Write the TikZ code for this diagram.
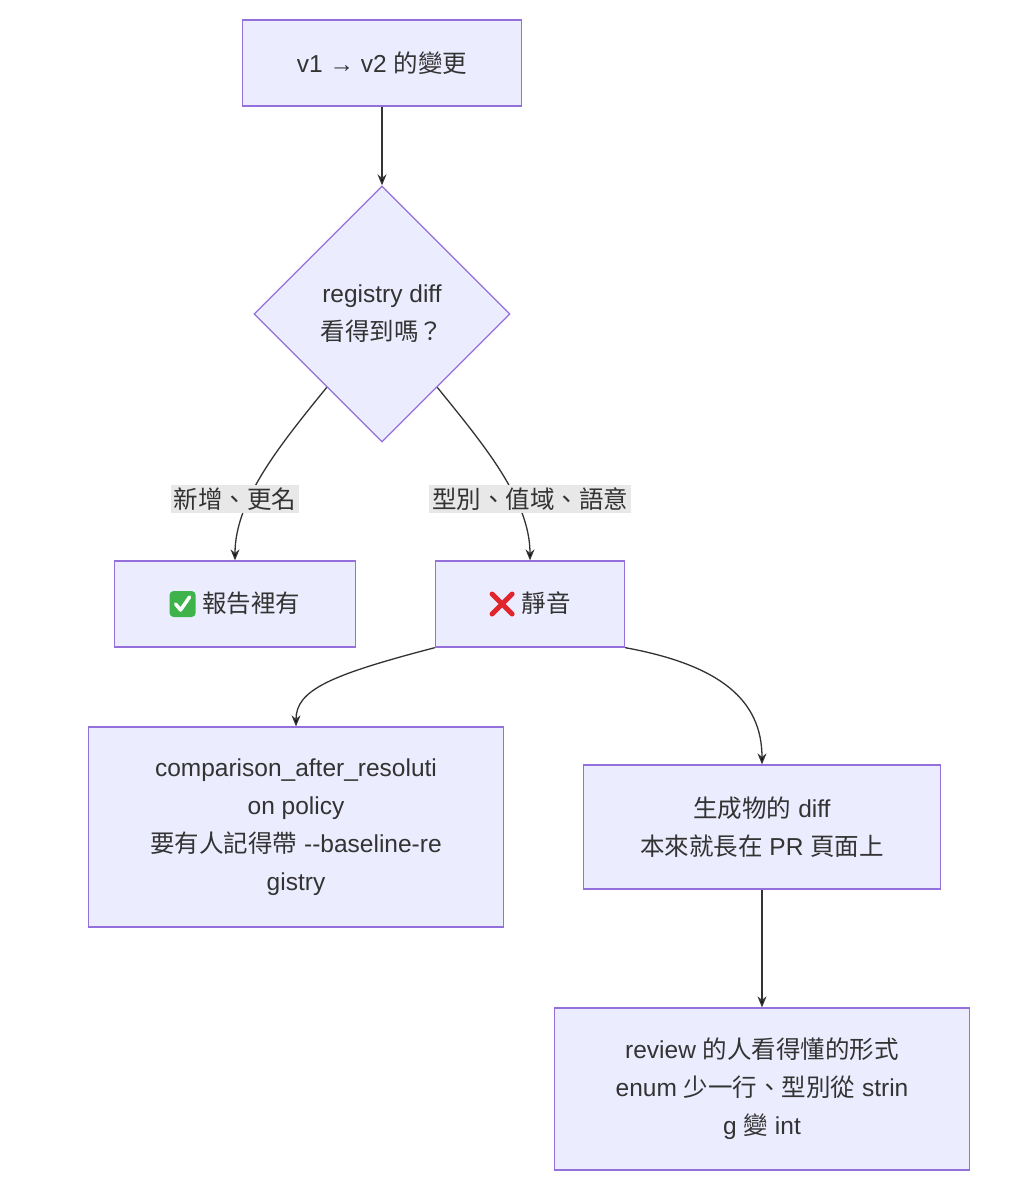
\documentclass[tikz,border=0pt]{standalone}
\usepackage{fontspec}
\setmainfont{Liberation Sans}
\newfontfamily\cjk{Noto Sans CJK TC}
\usetikzlibrary{shapes.geometric,arrows.meta}
\definecolor{boxfill}{HTML}{ECECFF}
\definecolor{boxline}{HTML}{9370DB}
\definecolor{ink}{HTML}{333333}
\definecolor{lblfill}{HTML}{E8E8E8}
\definecolor{okgreen}{HTML}{3DB34A}
\definecolor{nored}{HTML}{E0262C}
\newcommand\okmark{\tikz[baseline=-8pt,x=1pt,y=1pt]{\fill[okgreen,rounded corners=4pt] (-13,-13) rectangle (13,13);
  \draw[white,line width=3.5pt,line cap=round,line join=round] (-7,0) -- (-2,-6) -- (7,7);}}
\newcommand\nomark{\tikz[baseline=-8pt,x=1pt,y=1pt]{\path (-13,-13) rectangle (13,13);
  \draw[nored,line width=5pt,line cap=round] (-10,-10) -- (10,10) (-10,10) -- (10,-10);}}
\tikzset{
  box/.style={draw=boxline,fill=boxfill,line width=1.3pt,align=center,text=ink,
    font=\fontsize{24.5}{38}\selectfont,inner sep=0pt},
  decision/.style={diamond,draw=boxline,fill=boxfill,line width=1.3pt,align=center,
    text=ink,font=\fontsize{24.5}{38}\selectfont,minimum width=256pt,minimum height=256pt,inner sep=0pt},
  tag/.style={fill=lblfill,text=ink,font=\fontsize{24.5}{30}\selectfont,inner sep=3pt},
  flow/.style={draw=ink,line width=1.3pt,-{Stealth[length=11pt,width=9pt]}}
}
\begin{document}
\begin{tikzpicture}[x=1pt,y=-1pt]
    \useasboundingbox[fill=white] (0,0) rectangle (1024,1202);
    % nodes
    \node[box,minimum width=279pt,minimum height=86pt] (change) at (382,63) {v1 → v2 {\cjk 的變更}};
    \node[decision] (visible) at (382,314) {registry diff\\{\cjk 看得到嗎？}};
    \node[box,minimum width=241pt,minimum height=86pt] (report) at (235,604) {\okmark\ {\cjk 報告裡有}};
    \node[box,minimum width=189pt,minimum height=86pt] (silent) at (530,604) {\nomark\ {\cjk 靜音}};
    \node[box,minimum width=415pt,minimum height=200pt] (policy) at (296,827)
        {comparison\_after\_resoluti\\on policy\\{\cjk 要有人記得帶} -{}-baseline-re\\gistry};
    \node[box,minimum width=357pt,minimum height=124pt] (gendiff) at (762,827)
        {{\cjk 生成物的} diff\\{\cjk 本來就長在} PR {\cjk 頁面上}};
    \node[box,minimum width=415pt,minimum height=162pt] (readable) at (762,1089)
        {review {\cjk 的人看得懂的形式}\\enum {\cjk 少一行、型別從} strin\\g {\cjk 變} int};

    % connectors
    \draw[flow] (visible.233) .. controls (280,445) and (235,500) .. (report.north);
    \draw[flow] (change) -- (visible);
    \draw[flow] (visible.307) .. controls (484,445) and (530,500) .. (silent.north);
    \draw[flow] (silent.south west) .. controls (330,675) and (296,690) .. (policy.north);
    \draw[flow] (silent.south east) .. controls (720,665) and (762,700) .. (gendiff.north);
    \draw[flow] (gendiff) -- (readable);

    % edge labels
    \node[tag] (lblnew) at (235,499) {\cjk 新增、更名};
    \node[tag] (lbltype) at (530,499) {\cjk 型別、值域、語意};
\end{tikzpicture}
\end{document}
